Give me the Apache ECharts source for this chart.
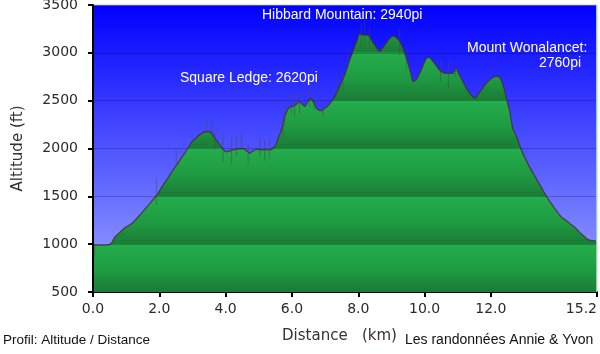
<!DOCTYPE html>
<html>
<head>
<meta charset="utf-8">
<title>Profil: Altitude / Distance</title>
<script src="https://cdn.jsdelivr.net/npm/echarts@6/dist/echarts.min.js"></script>
<style>
  html, body { margin: 0; padding: 0; background: #fff; }
  #profile_chart { width: 600px; height: 354px; }
</style>
</head>
<body>
<div id="profile_chart"></div>
<script>
// distance (km) / altitude (ft)
const distanceKm = [
  0.0, 0.2, 0.4, 0.55, 0.65, 0.8, 0.95, 1.15, 1.3, 1.45, 1.6, 1.75, 1.96, 2.1, 2.26, 2.4, 2.56, 2.7, 2.86, 2.95,
  3.12, 3.25, 3.37, 3.52, 3.62, 3.72, 3.83, 3.93, 4.03, 4.13, 4.23, 4.38, 4.53, 4.63, 4.73, 4.83, 4.93, 5.13, 5.33, 5.45,
  5.53, 5.6, 5.68, 5.78, 5.85, 5.93, 6.03, 6.13, 6.23, 6.33, 6.39, 6.5, 6.56, 6.64, 6.74, 6.82, 6.89, 6.96, 7.04, 7.19,
  7.29, 7.39, 7.49, 7.59, 7.67, 7.74, 7.82, 7.89, 7.97, 8.04, 8.12, 8.19, 8.29, 8.37, 8.44, 8.54, 8.64, 8.72, 8.8, 8.88,
  8.95, 9.05, 9.12, 9.2, 9.28, 9.35, 9.42, 9.5, 9.58, 9.65, 9.75, 9.82, 9.9, 9.98, 10.05, 10.15, 10.22, 10.3, 10.38, 10.45,
  10.55, 10.65, 10.75, 10.85, 10.95, 11.02, 11.1, 11.2, 11.3, 11.4, 11.51, 11.61, 11.71, 11.81, 11.91, 12.01, 12.11, 12.19, 12.26, 12.34,
  12.41, 12.48, 12.56, 12.61, 12.66, 12.74, 12.81, 12.88, 12.96, 13.06, 13.16, 13.31, 13.41, 13.51, 13.61, 13.71, 13.82, 13.92, 14.02, 14.12,
  14.22, 14.32, 14.42, 14.52, 14.62, 14.72, 14.82, 14.92, 15.02, 15.12, 15.2
];
const altitudeFt = [
  995, 990, 990, 1010, 1070, 1120, 1170, 1210, 1260, 1320, 1380, 1440, 1530, 1610, 1690, 1770, 1845, 1920, 2000, 2055,
  2115, 2150, 2175, 2175, 2140, 2085, 2035, 1990, 1965, 1975, 1985, 1995, 2000, 1975, 1950, 1975, 1990, 1985, 1985, 2010,
  2055, 2120, 2190, 2330, 2390, 2430, 2440, 2460, 2490, 2455, 2440, 2500, 2525, 2490, 2420, 2400, 2395, 2415, 2430, 2490,
  2545, 2610, 2690, 2770, 2850, 2925, 2995, 3065, 3135, 3195, 3190, 3185, 3185, 3150, 3110, 3060, 3015, 3045, 3080, 3120,
  3150, 3175, 3165, 3140, 3100, 3045, 2975, 2890, 2790, 2700, 2720, 2765, 2820, 2890, 2940, 2950, 2925, 2890, 2850, 2820,
  2795, 2785, 2785, 2785, 2840, 2790, 2735, 2670, 2610, 2560, 2525, 2565, 2610, 2660, 2700, 2730, 2750, 2755, 2745, 2690,
  2610, 2510, 2400, 2300, 2210, 2150, 2090, 2020, 1950, 1880, 1810, 1720, 1660, 1600, 1540, 1480, 1425, 1375, 1330, 1285,
  1260, 1235, 1205, 1180, 1145, 1110, 1080, 1050, 1040, 1035, 1035
];

// GPS noise spikes (km, low ft, high ft)
const spikeKm = [0.05, 1.91, 2.51, 3.42, 3.6, 3.67, 3.92, 4.18, 4.33, 4.48, 4.68, 5.03, 5.18, 5.33, 5.73, 5.78, 5.98, 6.08, 6.23, 6.54, 6.66, 6.93, 7.34, 7.54, 7.69, 8.09, 8.19, 8.34, 9.25, 9.45, 10.48, 10.72, 10.93];
const spikeLow = [865, 1410, 1825, 2160, 2120, 1985, 1860, 1845, 1920, 1985, 1840, 1920, 1870, 1900, 2110, 2225, 2370, 2330, 2370, 2435, 2400, 2330, 2540, 2600, 2910, 3060, 3100, 3030, 2975, 2820, 2700, 2630, 2750];
const spikeHigh = [1000, 1690, 1980, 2295, 2280, 2160, 2140, 2110, 2125, 2160, 2045, 2110, 2090, 2110, 2275, 2475, 2580, 2540, 2600, 2610, 2560, 2440, 2750, 2800, 3065, 3310, 3340, 3270, 3260, 3030, 2925, 2925, 2850];

const xTickValues = [0, 2, 4, 6, 8, 10, 12, 15.2];

const GRID = { left: 93, right: 3, top: 5, bottom: 62 };

const chartDom = document.getElementById('profile_chart');
const myChart = echarts.init(chartDom, null, { renderer: 'canvas' });

// green fill: each 500 ft band goes bright -> dark
const bandStops = [];
for (let k = 0; k < 6; k++) {
  bandStops.push({ offset: k / 6, color: '#24ae4c' });
  bandStops.push({ offset: (k + 0.55) / 6, color: '#1f9a42' });
  bandStops.push({ offset: (k + 1) / 6 - 0.002, color: '#1a7c35' });
}
const plotBottom = 354 - GRID.bottom;

const axisFont = 'DejaVu Sans, Verdana, sans-serif';
const textFont = 'Liberation Sans, Arial, sans-serif';

const option = {
  animation: false,
  grid: {
    left: GRID.left,
    right: GRID.right,
    top: GRID.top,
    bottom: GRID.bottom,
    outerBoundsMode: 'none',
    containLabel: false,
    show: true,
    borderWidth: 1,
    borderColor: '#c6cbef',
    backgroundColor: new echarts.graphic.LinearGradient(0, 0, 0, 1, [
      { offset: 0, color: '#0000ff' },
      { offset: 1, color: '#9ca7ff' },
    ]),
  },
  xAxis: {
    type: 'value',
    min: 0,
    max: 15.2,
    name: 'Distance   (km)',
    nameLocation: 'middle',
    nameGap: 37,
    nameTextStyle: { fontFamily: axisFont, fontSize: 15, color: '#3b2f2f', padding: [0, 11, 0, 0] },
    axisLine: { show: true, lineStyle: { color: '#000', width: 2 } },
    axisTick: { show: true, length: 5, customValues: xTickValues, lineStyle: { color: '#000', width: 2 } },
    axisLabel: {
      customValues: xTickValues,
      margin: 10,
      fontFamily: axisFont,
      fontSize: 14,
      color: '#2a2a2a',
      alignMaxLabel: 'right',
      formatter: (v) => v.toFixed(1),
    },
    splitLine: { show: false },
  },
  yAxis: {
    type: 'value',
    min: 500,
    max: 3500,
    interval: 500,
    z: 3,
    name: 'Altitude (ft)',
    nameLocation: 'middle',
    nameGap: 67,
    nameTextStyle: { fontFamily: axisFont, fontSize: 15, color: '#3b2f2f' },
    axisLine: { show: true, lineStyle: { color: '#000', width: 2 } },
    axisTick: { show: true, length: 5, lineStyle: { color: '#000', width: 2 } },
    axisLabel: {
      margin: 15,
      fontFamily: axisFont,
      fontSize: 14,
      color: '#2a2a2a',
      formatter: (v) => String(v),
    },
    splitLine: { show: true, lineStyle: { color: 'rgba(0,0,0,0.22)', width: 1 } },
  },
  series: [
    {
      name: 'Altitude',
      type: 'line',
      data: distanceKm.map((d, i) => [d, altitudeFt[i]]),
      showSymbol: false,
      smooth: 0.2,
      lineStyle: { color: 'rgba(70,45,45,0.8)', width: 1.3 },
      areaStyle: {
        origin: 'start',
        opacity: 1,
        color: new echarts.graphic.LinearGradient(0, GRID.top, 0, plotBottom, bandStops, true),
      },
      z: 2,
    },
    {
      name: 'Bruit',
      type: 'custom',
      data: spikeKm.map((d, i) => [d, spikeLow[i], spikeHigh[i]]),
      encode: { x: 0, y: [1, 2] },
      renderItem: (params, api) => {
        const p1 = api.coord([api.value(0), api.value(1)]);
        const p2 = api.coord([api.value(0), api.value(2)]);
        return {
          type: 'line',
          shape: { x1: p1[0], y1: p1[1], x2: p2[0], y2: p2[1] },
          style: { stroke: 'rgba(75,70,70,0.5)', lineWidth: 1 },
        };
      },
      z: 4,
    },
  ],
  graphic: [
    // light green right edge of the plot frame
    { type: 'rect', right: 3, top: GRID.top, z: 50, shape: { width: 1, height: plotBottom - GRID.top }, style: { fill: '#8fd98f' } },
    { type: 'text', left: 262, top: 8, z: 100, style: { text: 'Hibbard Mountain: 2940pi', fill: '#fff', font: '14px ' + textFont } },
    { type: 'text', left: 180, top: 71, z: 100, style: { text: 'Square Ledge: 2620pi', fill: '#fff', font: '14px ' + textFont } },
    { type: 'text', left: 467, top: 41, z: 100, style: { text: 'Mount Wonalancet:', fill: '#fff', font: '14px ' + textFont } },
    { type: 'text', left: 539, top: 56, z: 100, style: { text: '2760pi', fill: '#fff', font: '14px ' + textFont } },
    { type: 'text', left: 3, top: 333, z: 100, style: { text: 'Profil: Altitude / Distance', fill: '#111', font: '13.5px ' + textFont } },
    { type: 'text', left: 405, top: 333, z: 100, style: { text: 'Les randonnées Annie & Yvon', fill: '#111', font: '14px ' + textFont } },
  ],
};

option && myChart.setOption(option);
</script>
</body>
</html>
